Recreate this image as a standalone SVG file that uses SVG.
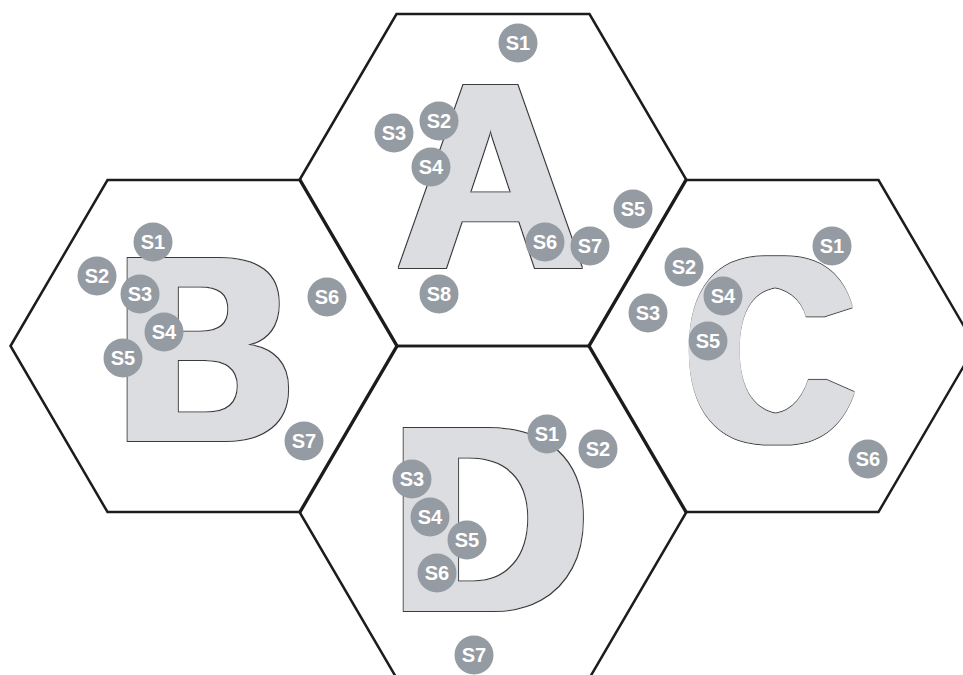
<svg xmlns="http://www.w3.org/2000/svg" width="963" height="675" viewBox="0 0 963 675">
<style>
.hex{fill:none;stroke:#1c1c1c;stroke-width:2.5;stroke-linejoin:miter}
.letter{font-family:"Liberation Sans",Arial,sans-serif;font-weight:bold;font-size:266px;fill:#dcdde1;text-anchor:middle}
.dot{fill:#959ba2}
.lbl{font-family:"Liberation Sans",Arial,sans-serif;font-weight:bold;font-size:20px;fill:#ffffff;text-anchor:middle}
</style>
<defs>
<filter id="fA" x="-15%" y="-15%" width="130%" height="130%">
<feMorphology in="SourceAlpha" operator="dilate" radius="5 0" result="d1"/>
<feMorphology in="SourceAlpha" operator="dilate" radius="6 1" result="d2"/>
<feFlood flood-color="#3a3a3a"/><feComposite in2="d2" operator="in" result="o"/>
<feFlood flood-color="#dcdde1"/><feComposite in2="d1" operator="in" result="b"/>
<feMerge><feMergeNode in="o"/><feMergeNode in="b"/></feMerge>
</filter>
<filter id="fB" x="-15%" y="-15%" width="130%" height="130%">
<feMorphology in="SourceAlpha" operator="dilate" radius="9 0" result="d1"/>
<feMorphology in="SourceAlpha" operator="dilate" radius="10 1" result="d2"/>
<feFlood flood-color="#3a3a3a"/><feComposite in2="d2" operator="in" result="o"/>
<feFlood flood-color="#dcdde1"/><feComposite in2="d1" operator="in" result="b"/>
<feMerge><feMergeNode in="o"/><feMergeNode in="b"/></feMerge>
</filter>
<filter id="fC" x="-15%" y="-15%" width="130%" height="130%">
<feMorphology in="SourceAlpha" operator="dilate" radius="10 0" result="d1"/>
<feMorphology in="SourceAlpha" operator="dilate" radius="11 1" result="d2"/>
<feFlood flood-color="#3a3a3a"/><feComposite in2="d2" operator="in" result="o"/>
<feFlood flood-color="#dcdde1"/><feComposite in2="d1" operator="in" result="b"/>
<feMerge><feMergeNode in="o"/><feMergeNode in="b"/></feMerge>
</filter>
<filter id="fD" x="-15%" y="-15%" width="130%" height="130%">
<feMorphology in="SourceAlpha" operator="dilate" radius="8 0" result="d1"/>
<feMorphology in="SourceAlpha" operator="dilate" radius="9 1" result="d2"/>
<feFlood flood-color="#3a3a3a"/><feComposite in2="d2" operator="in" result="o"/>
<feFlood flood-color="#dcdde1"/><feComposite in2="d1" operator="in" result="b"/>
<feMerge><feMergeNode in="o"/><feMergeNode in="b"/></feMerge>
</filter>
</defs>
<rect width="963" height="675" fill="#ffffff"/>
<g id="cell-A">
<polygon class="hex" points="299.5,180 396.5,14 589.5,14 686.5,180 589.5,346 396.5,346"/>
<text class="letter" filter="url(#fA)" transform="translate(490.5,268) scale(0.97,1)" x="0" y="0">A</text>
</g>
<g id="cell-B">
<polygon class="hex" points="10.5,346 107.5,180 300.5,180 397.5,346 300.5,512 107.5,512"/>
<text class="letter" filter="url(#fB)" transform="translate(208,441) scale(0.89,1)" x="-3" y="0">B</text>
</g>
<g id="cell-C">
<polygon class="hex" points="588.5,346 685.5,180 878.5,180 975.5,346 878.5,512 685.5,512"/>
<text class="letter" filter="url(#fC)" transform="translate(771,442) scale(0.85,1)" x="-1" y="0">C</text>
</g>
<g id="cell-D">
<polygon class="hex" points="299.5,512 396.5,346 589.5,346 686.5,512 589.5,678 396.5,678"/>
<text class="letter" filter="url(#fD)" transform="translate(494,611)" x="-4" y="0">D</text>
</g>
<g id="sites-A">
<g id="A-S1"><circle class="dot" cx="518" cy="43" r="19.5"/><text class="lbl" x="518" y="50">S1</text></g>
<g id="A-S2"><circle class="dot" cx="439" cy="121" r="19.5"/><text class="lbl" x="439" y="128">S2</text></g>
<g id="A-S3"><circle class="dot" cx="394" cy="133" r="19.5"/><text class="lbl" x="394" y="140">S3</text></g>
<g id="A-S4"><circle class="dot" cx="431" cy="167" r="19.5"/><text class="lbl" x="431" y="174">S4</text></g>
<g id="A-S5"><circle class="dot" cx="633" cy="209" r="19.5"/><text class="lbl" x="633" y="216">S5</text></g>
<g id="A-S6"><circle class="dot" cx="545" cy="242" r="19.5"/><text class="lbl" x="545" y="249">S6</text></g>
<g id="A-S7"><circle class="dot" cx="590" cy="246" r="19.5"/><text class="lbl" x="590" y="253">S7</text></g>
<g id="A-S8"><circle class="dot" cx="439" cy="294" r="19.5"/><text class="lbl" x="439" y="301">S8</text></g>
</g>
<g id="sites-B">
<g id="B-S1"><circle class="dot" cx="153" cy="242" r="19.5"/><text class="lbl" x="153" y="249">S1</text></g>
<g id="B-S2"><circle class="dot" cx="97" cy="276" r="19.5"/><text class="lbl" x="97" y="283">S2</text></g>
<g id="B-S3"><circle class="dot" cx="140" cy="294" r="19.5"/><text class="lbl" x="140" y="301">S3</text></g>
<g id="B-S4"><circle class="dot" cx="164" cy="332" r="19.5"/><text class="lbl" x="164" y="339">S4</text></g>
<g id="B-S5"><circle class="dot" cx="123" cy="358" r="19.5"/><text class="lbl" x="123" y="365">S5</text></g>
<g id="B-S6"><circle class="dot" cx="327" cy="297" r="19.5"/><text class="lbl" x="327" y="304">S6</text></g>
<g id="B-S7"><circle class="dot" cx="304" cy="441" r="19.5"/><text class="lbl" x="304" y="448">S7</text></g>
</g>
<g id="sites-C">
<g id="C-S1"><circle class="dot" cx="832" cy="246" r="19.5"/><text class="lbl" x="832" y="253">S1</text></g>
<g id="C-S2"><circle class="dot" cx="684" cy="267" r="19.5"/><text class="lbl" x="684" y="274">S2</text></g>
<g id="C-S3"><circle class="dot" cx="648" cy="313" r="19.5"/><text class="lbl" x="648" y="320">S3</text></g>
<g id="C-S4"><circle class="dot" cx="723" cy="296" r="19.5"/><text class="lbl" x="723" y="303">S4</text></g>
<g id="C-S5"><circle class="dot" cx="708" cy="341" r="19.5"/><text class="lbl" x="708" y="348">S5</text></g>
<g id="C-S6"><circle class="dot" cx="868" cy="459" r="19.5"/><text class="lbl" x="868" y="466">S6</text></g>
</g>
<g id="sites-D">
<g id="D-S1"><circle class="dot" cx="547" cy="434" r="19.5"/><text class="lbl" x="547" y="441">S1</text></g>
<g id="D-S2"><circle class="dot" cx="598" cy="449" r="19.5"/><text class="lbl" x="598" y="456">S2</text></g>
<g id="D-S3"><circle class="dot" cx="412" cy="479" r="19.5"/><text class="lbl" x="412" y="486">S3</text></g>
<g id="D-S4"><circle class="dot" cx="430" cy="517" r="19.5"/><text class="lbl" x="430" y="524">S4</text></g>
<g id="D-S5"><circle class="dot" cx="467" cy="540" r="19.5"/><text class="lbl" x="467" y="547">S5</text></g>
<g id="D-S6"><circle class="dot" cx="437" cy="573" r="19.5"/><text class="lbl" x="437" y="580">S6</text></g>
<g id="D-S7"><circle class="dot" cx="474" cy="655" r="19.5"/><text class="lbl" x="474" y="662">S7</text></g>
</g>
<g id="connectors"/>
</svg>
